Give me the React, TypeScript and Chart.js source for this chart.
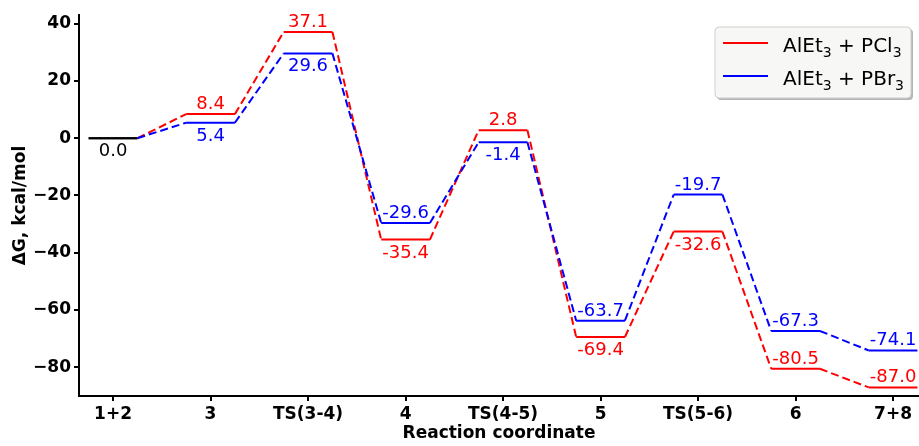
import React, { useEffect, useRef } from 'react';
import { Chart, registerables } from 'chart.js';

Chart.register(...registerables);

// ---------- data ----------
const categories = ['1+2', '3', 'TS(3-4)', '4', 'TS(4-5)', '5', 'TS(5-6)', '6', '7+8'];
const pcl3Values = [0.0, 8.4, 37.1, -35.4, 2.8, -69.4, -32.6, -80.5, -87.0];
const pbr3Values = [0.0, 5.4, 29.6, -29.6, -1.4, -63.7, -19.7, -67.3, -74.1];
const yTickValues = [40, 20, 0, -20, -40, -60, -80];
const seriesLabels = ['AlEt₃ + PCl₃', 'AlEt₃ + PBr₃'];
// where each energy label sits relative to its level
const pcl3LabelSide = ['below', 'above', 'above', 'below', 'above', 'below', 'below', 'above', 'above'];
const pbr3LabelSide = ['none', 'below', 'below', 'above', 'below', 'above', 'above', 'above', 'above'];

// ---------- style ----------
const FONT = "'DejaVu Sans', sans-serif";
const RED = '#ff0000';
const BLUE = '#0000ff';
const HALF = 0.25;

function levelPoints(values: number[]) {
  const pts: { x: number; y: number }[] = [];
  values.forEach((v, i) => {
    pts.push({ x: i - HALF, y: v });
    pts.push({ x: i + HALF, y: v });
  });
  return pts;
}

const valueLabelPlugin = {
  id: 'valueLabels',
  afterDatasetsDraw(chart: any) {
    const { ctx, scales } = chart;
    const xs = scales.x;
    const ys = scales.y;
    ctx.save();
    ctx.font = `18px ${FONT}`;
    ctx.textAlign = 'center';
    ctx.textBaseline = 'alphabetic';
    chart.data.datasets.forEach((ds: any) => {
      const vals: number[] = ds.levels;
      const sides: string[] = ds.labelSides;
      vals.forEach((v, i) => {
        const side = sides[i];
        if (side === 'none') return;
        const x = xs.getPixelForValue(i);
        const y = ys.getPixelForValue(v);
        ctx.fillStyle = i === 0 ? '#000000' : ds.borderColor;
        const ty = side === 'above' ? y - 5 : y + 18;
        ctx.fillText(v.toFixed(1), x, ty);
      });
    });
    ctx.restore();
  },
};

function drawRichLabel(ctx: CanvasRenderingContext2D, text: string, x: number, y: number) {
  let cx = x;
  for (const ch of text) {
    if (ch === '₃') {
      ctx.font = `14px ${FONT}`;
      ctx.fillText('3', cx, y + 5);
      cx += ctx.measureText('3').width;
    } else {
      ctx.font = `20px ${FONT}`;
      ctx.fillText(ch, cx, y);
      cx += ctx.measureText(ch).width;
    }
  }
}

const legendPlugin = {
  id: 'customLegend',
  afterDraw(chart: any) {
    const { ctx } = chart;
    const bx = 715;
    const by = 27;
    const bw = 196;
    const bh = 71;
    const r = 4;
    ctx.save();
    const rr = (x: number, y: number, w: number, h: number) => {
      ctx.beginPath();
      ctx.moveTo(x + r, y);
      ctx.lineTo(x + w - r, y);
      ctx.quadraticCurveTo(x + w, y, x + w, y + r);
      ctx.lineTo(x + w, y + h - r);
      ctx.quadraticCurveTo(x + w, y + h, x + w - r, y + h);
      ctx.lineTo(x + r, y + h);
      ctx.quadraticCurveTo(x, y + h, x, y + h - r);
      ctx.lineTo(x, y + r);
      ctx.quadraticCurveTo(x, y, x + r, y);
      ctx.closePath();
    };
    rr(bx + 2, by + 2, bw, bh);
    ctx.fillStyle = 'rgba(120,120,120,0.55)';
    ctx.fill();
    rr(bx, by, bw, bh);
    ctx.fillStyle = '#f7f7f5';
    ctx.fill();
    ctx.strokeStyle = '#cfcfcf';
    ctx.lineWidth = 1;
    ctx.stroke();

    chart.data.datasets.forEach((ds: any, i: number) => {
      const ly = 43 + i * 33;
      ctx.strokeStyle = ds.borderColor;
      ctx.lineWidth = 2;
      ctx.beginPath();
      ctx.moveTo(723, ly);
      ctx.lineTo(768, ly);
      ctx.stroke();
      ctx.fillStyle = '#000000';
      ctx.textAlign = 'left';
      ctx.textBaseline = 'alphabetic';
      drawRichLabel(ctx, ds.label, 783, ly + 9);
    });
    ctx.restore();
  },
};

export default function App() {
  const canvasRef = useRef<HTMLCanvasElement | null>(null);

  useEffect(() => {
    const canvas = canvasRef.current;
    if (!canvas) return;
    const segment = {
      borderDash: (c: any) => (c.p0DataIndex % 2 === 1 ? [8, 4] : undefined),
      borderColor: (c: any) => (c.p0DataIndex === 0 ? '#000000' : undefined),
    };
    const chart = new Chart(canvas, {
      type: 'line',
      data: {
        datasets: [
          {
            label: seriesLabels[0],
            data: levelPoints(pcl3Values),
            levels: pcl3Values,
            labelSides: pcl3LabelSide,
            borderColor: RED,
            borderWidth: 2,
            pointRadius: 0,
            tension: 0,
            fill: false,
            order: 1,
            segment,
          } as any,
          {
            label: seriesLabels[1],
            data: levelPoints(pbr3Values),
            levels: pbr3Values,
            labelSides: pbr3LabelSide,
            borderColor: BLUE,
            borderWidth: 2,
            pointRadius: 0,
            tension: 0,
            fill: false,
            order: 0,
            segment,
          } as any,
        ],
      },
      options: {
        responsive: false,
        animation: false,
        devicePixelRatio: 1,
        layout: { padding: { top: 15, right: 0, left: 0, bottom: 0 } },
        plugins: {
          legend: { display: false },
          tooltip: { enabled: false },
        },
        scales: {
          x: {
            type: 'linear',
            min: -0.349,
            max: 8.266,
            afterBuildTicks: (s: any) => {
              s.ticks = categories.map((_, i) => ({ value: i }));
            },
            afterFit: (s: any) => {
              s.height = 50;
            },
            ticks: {
              autoSkip: false,
              maxRotation: 0,
              padding: 3,
              color: '#000000',
              font: { family: FONT, size: 17, weight: 'bold' },
              callback: (v: any) => categories[Math.round(Number(v))] ?? '',
            },
            grid: {
              display: true,
              drawOnChartArea: false,
              drawTicks: true,
              tickLength: 5,
              color: '#000000',
              lineWidth: 2,
            },
            border: { display: true, color: '#000000', width: 2 },
            title: {
              display: true,
              text: 'Reaction coordinate',
              color: '#000000',
              font: { family: FONT, size: 17, weight: 'bold' },
              padding: { top: 0, bottom: 2 },
            },
          },
          y: {
            type: 'linear',
            min: -90,
            max: 43,
            afterBuildTicks: (s: any) => {
              s.ticks = yTickValues.map((v) => ({ value: v }));
            },
            afterFit: (s: any) => {
              s.width = 79;
            },
            ticks: {
              padding: 3,
              color: '#000000',
              font: { family: FONT, size: 17, weight: 'bold' },
              callback: (v: any) => (Number(v) < 0 ? '\u2212' + Math.abs(Number(v)) : String(v)),
            },
            grid: {
              display: true,
              drawOnChartArea: false,
              drawTicks: true,
              tickLength: 5,
              color: '#000000',
              lineWidth: 2,
            },
            border: { display: true, color: '#000000', width: 2 },
            title: {
              display: true,
              text: 'ΔG, kcal/mol',
              color: '#000000',
              font: { family: FONT, size: 17, weight: 'bold' },
              padding: { top: 10, bottom: 0 },
            },
          },
        },
      } as any,
      plugins: [valueLabelPlugin, legendPlugin],
    });
    return () => chart.destroy();
  }, []);

  return (
    <div style={{ position: 'fixed', left: 0, top: 0, width: 919, height: 446, background: '#ffffff' }}>
      <canvas ref={canvasRef} width={919} height={446} />
    </div>
  );
}
